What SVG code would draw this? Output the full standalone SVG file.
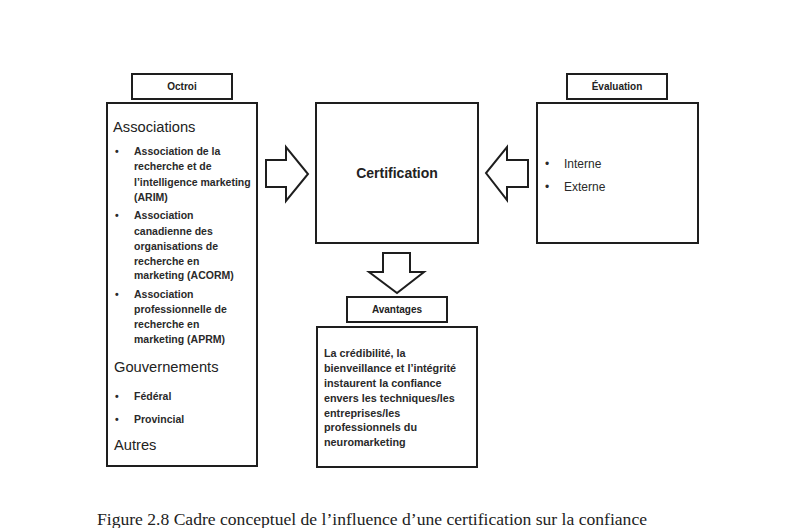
<svg xmlns="http://www.w3.org/2000/svg" width="793" height="528" viewBox="0 0 793 528">
<style>
.box{fill:#fff;stroke:#1e1e1e;stroke-width:2}
.arr{fill:#fff;stroke:#1e1e1e;stroke-width:2;stroke-linejoin:miter}
.hd{font-family:"Liberation Sans",Arial,sans-serif;font-weight:bold;font-size:10px;fill:#222;text-anchor:middle}
.big{font-family:"Liberation Sans",Arial,sans-serif;font-size:14.7px;fill:#222}
.sm{font-family:"Liberation Sans",Arial,sans-serif;font-weight:bold;font-size:10.5px;fill:#2a2a2a}
.rg{font-family:"Liberation Sans",Arial,sans-serif;font-size:12px;fill:#2a2a2a}
.cap{font-family:"Liberation Serif","Times New Roman",serif;font-size:16px;fill:#222}
</style>
<rect width="793" height="528" fill="#fff"/>
<g id="octroi-label">
<rect class="box" x="132" y="74" width="100" height="25"/>
<text class="hd" x="182" y="90">Octroi</text>
</g>
<g id="octroi">
<rect class="box" x="107" y="103" width="150" height="363"/>
<text class="big" x="113" y="132">Associations</text>
<g class="sm">
<text x="115" y="155">•</text>
<text x="134" y="155">Association de la</text>
<text x="134" y="170">recherche et de</text>
<text x="134" y="186">l’intelligence marketing</text>
<text x="134" y="201">(ARIM)</text>
<text x="115" y="219">•</text>
<text x="134" y="219">Association</text>
<text x="134" y="235">canadienne des</text>
<text x="134" y="250">organisations de</text>
<text x="134" y="265">recherche en</text>
<text x="134" y="279">marketing (ACORM)</text>
<text x="115" y="298">•</text>
<text x="134" y="298">Association</text>
<text x="134" y="313">professionnelle de</text>
<text x="134" y="328">recherche en</text>
<text x="134" y="343">marketing (APRM)</text>
<text x="115" y="400">•</text>
<text x="134" y="400">Fédéral</text>
<text x="115" y="423">•</text>
<text x="134" y="423">Provincial</text>
</g>
<text class="big" x="114" y="372">Gouvernements</text>
<text class="big" x="114" y="450">Autres</text>
</g>
<g id="certification">
<rect class="box" x="316" y="103" width="162" height="140"/>
<text x="397" y="178" font-family="Liberation Sans,Arial,sans-serif" font-weight="bold" font-size="14px" fill="#222" text-anchor="middle">Certification</text>
</g>
<g id="evaluation-label">
<rect class="box" x="567" y="74" width="100" height="25"/>
<text class="hd" x="617" y="90">Évaluation</text>
</g>
<g id="evaluation">
<rect class="box" x="537" y="103" width="161" height="140"/>
<text class="rg" x="545" y="168">•</text>
<text class="rg" x="564" y="168">Interne</text>
<text class="rg" x="545" y="191">•</text>
<text class="rg" x="564" y="191">Externe</text>
</g>
<g id="avantages-label">
<rect class="box" x="347" y="297" width="100" height="25"/>
<text class="hd" x="397" y="313">Avantages</text>
</g>
<g id="avantages">
<rect class="box" x="317" y="327" width="160" height="140"/>
<g class="sm" style="font-size:10.8px">
<text x="324" y="357">La crédibilité, la</text>
<text x="324" y="372">bienveillance et l’intégrité</text>
<text x="324" y="387">instaurent la confiance</text>
<text x="324" y="402">envers les techniques/les</text>
<text x="324" y="417">entreprises/les</text>
<text x="324" y="431">professionnels du</text>
<text x="324" y="446">neuromarketing</text>
</g>
</g>
<g id="connectors">
<polygon class="arr" points="266,160 286,160 286,147 308,174 286,201 286,187 266,187"/>
<polygon class="arr" points="528,160 507,160 507,147 486,173 507,200 507,187 528,187"/>
<polygon class="arr" points="383,253 410,253 410,272 424,272 397,293 369,272 383,272"/>
</g>
<text class="cap" x="97" y="525" textLength="550" lengthAdjust="spacingAndGlyphs">Figure 2.8 Cadre conceptuel de l’influence d’une certification sur la confiance</text>
</svg>
